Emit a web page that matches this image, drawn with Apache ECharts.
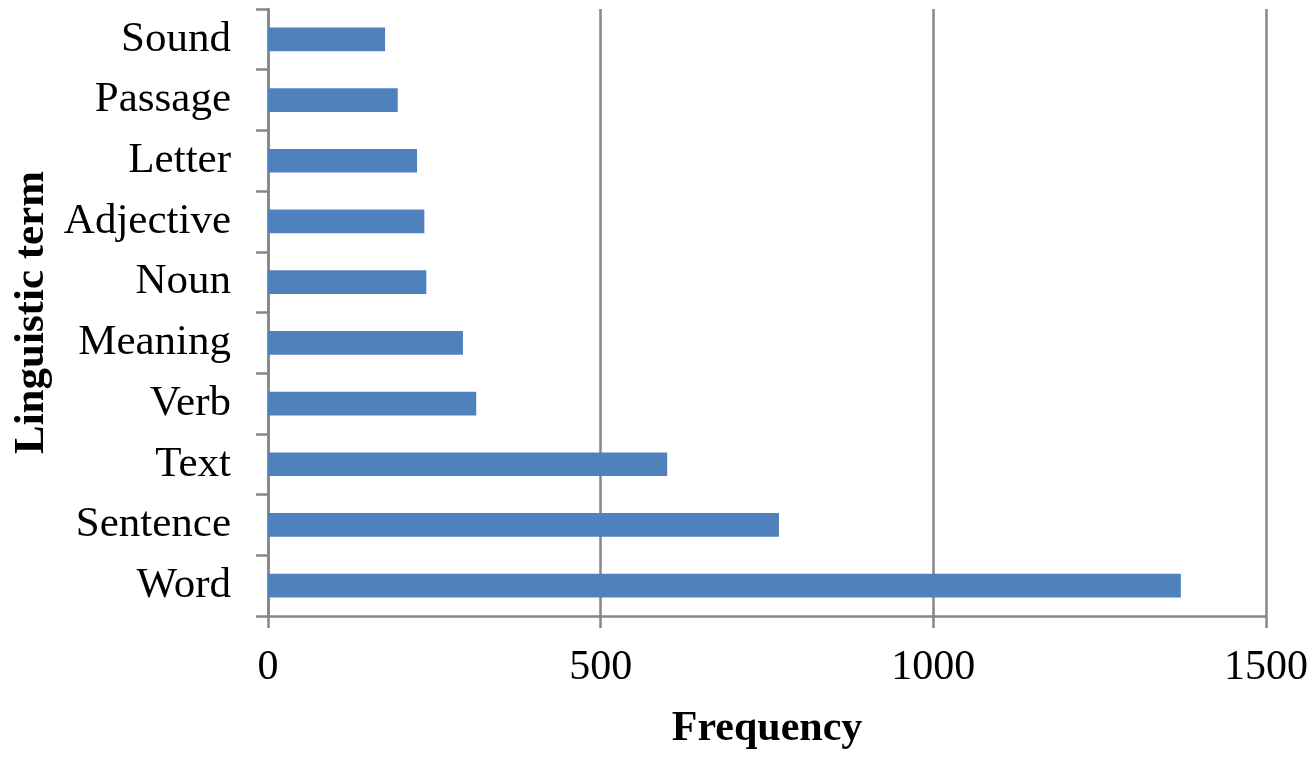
<!DOCTYPE html>
<html>
<head>
<meta charset="utf-8">
<script src="https://cdn.jsdelivr.net/npm/echarts@6/dist/echarts.min.js"></script>
<style>
html,body{margin:0;padding:0;background:#fff;}
#chart{width:1315px;height:758px;}
</style>
</head>
<body>
<div id="chart"></div>
<script>
var categories = ['Sound','Passage','Letter','Adjective','Noun','Meaning','Verb','Text','Sentence','Word'];
var frequency = [176, 195, 224, 235, 238, 293, 313, 600, 768, 1372];
var xTicks = [0, 500, 1000, 1500];

var FONT = '"Liberation Serif", "Times New Roman", serif';
var GRAY = '#868686';
var chart = echarts.init(document.getElementById('chart'), null, {renderer: 'canvas'});
chart.setOption({
  animation: false,
  backgroundColor: '#ffffff',
  grid: {left: 268, right: 49, top: 9, bottom: 142, containLabel: false},
  xAxis: {
    type: 'value',
    min: xTicks[0],
    max: xTicks[xTicks.length - 1],
    interval: xTicks[1] - xTicks[0],
    name: 'Frequency',
    nameLocation: 'middle',
    nameGap: 92,
    nameTextStyle: {fontFamily: FONT, fontSize: 42, fontWeight: 'bold', color: '#000'},
    axisLine: {show: true, lineStyle: {color: GRAY, width: 2.5}},
    axisTick: {show: true, length: 12, lineStyle: {color: GRAY, width: 2.5}},
    axisLabel: {fontFamily: FONT, fontSize: 42, color: '#000', margin: 31,
      formatter: function (v) { return String(v); }},
    splitLine: {show: true, lineStyle: {color: GRAY, width: 2.5}}
  },
  yAxis: {
    type: 'category',
    data: categories,
    inverse: true,
    name: 'Linguistic term',
    nameLocation: 'middle',
    nameGap: 215,
    nameRotate: 90,
    nameTextStyle: {fontFamily: FONT, fontSize: 43, fontWeight: 'bold', color: '#000'},
    axisLine: {show: true, lineStyle: {color: GRAY, width: 2.5}},
    axisTick: {show: true, length: 12, lineStyle: {color: GRAY, width: 2.5}},
    axisLabel: {fontFamily: FONT, fontSize: 43, color: '#000', margin: 37},
    splitLine: {show: false}
  },
  series: [{
    type: 'bar',
    data: frequency,
    barCategoryGap: '61%',
    itemStyle: {color: '#4F81BD'}
  }]
});
</script>
</body>
</html>
